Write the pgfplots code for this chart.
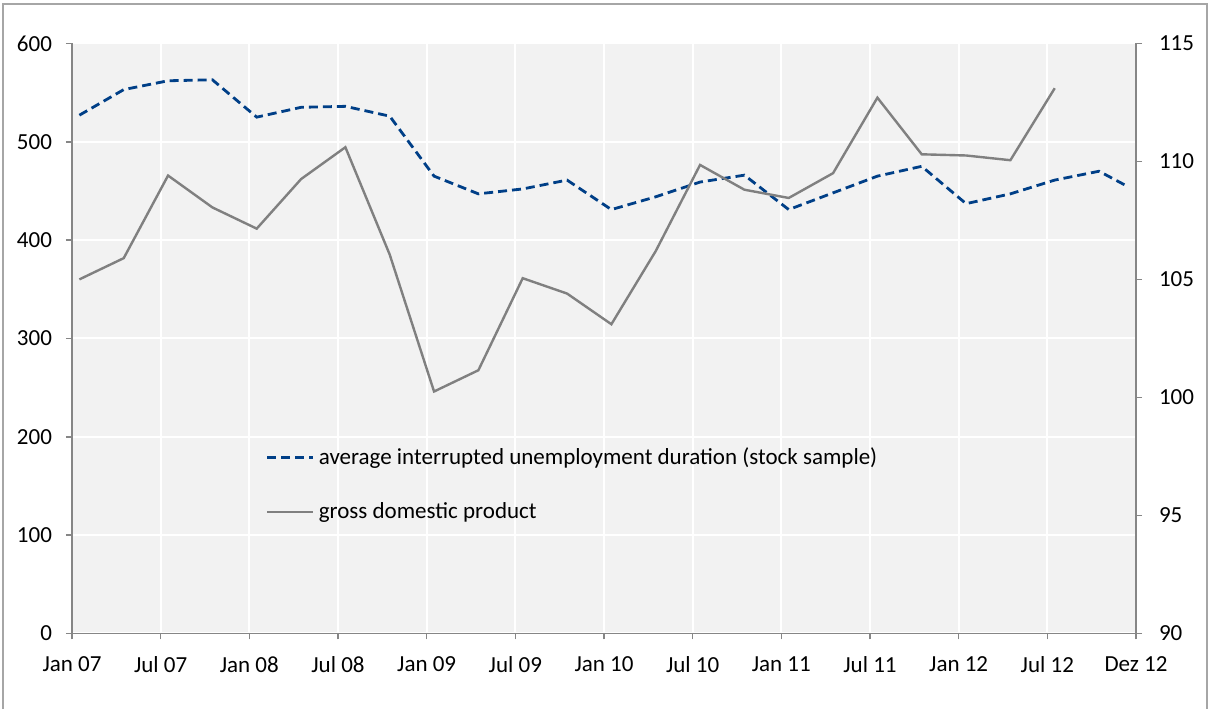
\documentclass[border=0pt]{standalone}
\usepackage{fontspec}
\setmainfont{Carlito}
\usepackage{pgfplots}
\pgfplotsset{compat=1.18}

\definecolor{dashblue}{RGB}{0,63,135}
\definecolor{gdpgray}{RGB}{128,128,128}
\definecolor{plotbg}{RGB}{242,242,242}
\definecolor{axisgray}{RGB}{134,134,134}

\pgfplotsset{
  common/.style={
    width=532pt, height=295pt, scale only axis,
    xmin=0, xmax=72,
    xtick={0,6,...,72},
    font=\fontsize{11.5}{13.5}\selectfont,
    /pgf/number format/assume math mode=true,
    tick align=outside,
    major tick length=3pt,
    axis line style={axisgray, line width=0.8pt},
    tick style={axisgray, line width=0.8pt},
  }
}

\begin{document}
\begin{tikzpicture}
\begin{axis}[
    common,
    axis background/.style={fill=plotbg},
    axis x line*=bottom,
    axis y line*=left,
    ymin=0, ymax=600,
    ytick={0,100,...,600},
    xticklabels={Jan 07,Jul 07,Jan 08,Jul 08,Jan 09,Jul 09,Jan 10,Jul 10,Jan 11,Jul 11,Jan 12,Jul 12,Dez 12},
    xmajorgrids, ymajorgrids,
    grid style={white, line width=1pt},
    yticklabel style={xshift=-3.5pt},
    xticklabel style={yshift=-5pt},
    legend style={draw=none, fill=none, at={(0.182,0.322)}, anchor=north west,
      row sep=13.5pt, inner sep=0pt, font=\fontsize{11.5}{13.5}\selectfont},
    legend cell align=left,
    legend image code/.code={\draw[#1] (0pt,0pt) -- (23pt,0pt);},
]
\coordinate (sw) at (rel axis cs:0,0);
\coordinate (ne) at (rel axis cs:1,1);
\addplot[dashblue, line width=1.4pt, dash pattern=on 4.5pt off 2.5pt] coordinates {
  (0.5,527)(3.5,553)(6.5,562)(9.5,563)(12.5,525)(15.5,535)(18.5,536)(21.5,526)
  (24.5,465)(27.5,447)(30.5,452)(33.5,461)(36.5,431)(39.5,444)(42.5,459)(45.5,466)
  (48.5,431)(51.5,448)(54.5,465)(57.5,475)(60.5,437)(63.5,447)(66.5,461)(69.5,470)
  (71.5,454)
};
\addlegendentry{average interrupted unemployment duration (stock sample)}
\addlegendimage{gdpgray, line width=1.2pt}
\addlegendentry{gross domestic product}
\end{axis}

\begin{axis}[
    common,
    axis x line=none,
    axis y line*=right,
    ymin=90, ymax=115,
    ytick={90,95,...,115},
    yticklabel style={xshift=5pt},
]
\addplot[gdpgray, line width=1.2pt] coordinates {
  (0.5,105.0)(3.5,105.9)(6.5,109.4)(9.5,108.05)(12.5,107.15)(15.5,109.25)
  (18.5,110.6)(21.5,106.05)(24.5,100.25)(27.5,101.15)(30.5,105.05)(33.5,104.4)
  (36.5,103.1)(39.5,106.2)(42.5,109.85)(45.5,108.8)(48.5,108.45)(51.5,109.5)
  (54.5,112.7)(57.5,110.3)(60.5,110.25)(63.5,110.05)(66.5,113.1)
};
\end{axis}

\draw[gray!70, line width=0.6pt]
  ([xshift=-34.5pt,yshift=-37.8pt]sw) -- ([xshift=-34.5pt]sw |- ne)
  -- ++(0,19.7pt) -| ([xshift=35.5pt,yshift=-37.8pt]ne |- sw);
\path ([xshift=-36pt,yshift=-37.8pt]sw) rectangle ([xshift=37.5pt,yshift=21.7pt]ne);
\end{tikzpicture}
\end{document}
